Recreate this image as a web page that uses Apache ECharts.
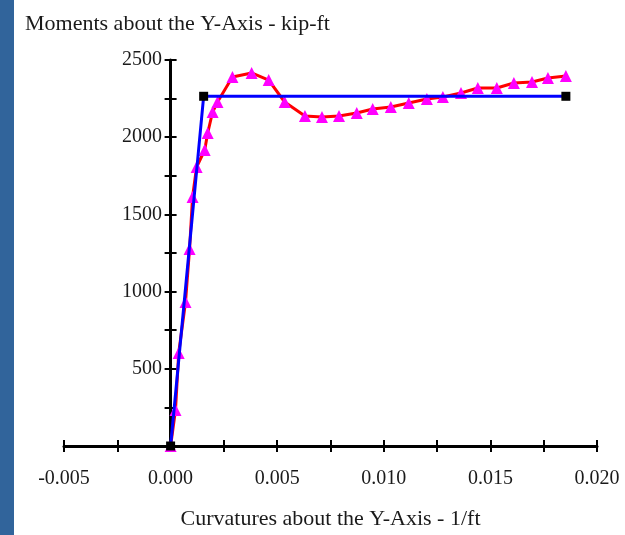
<!DOCTYPE html>
<html>
<head>
<meta charset="utf-8">
<script src="https://cdn.jsdelivr.net/npm/echarts@6/dist/echarts.min.js"></script>
<style>
  html, body { margin: 0; padding: 0; background: #fff; }
  #chart { width: 625px; height: 535px; }
</style>
</head>
<body>
<div id="chart"></div>
<script>
// moment-curvature data
const curvature = [0, 0.00023, 0.00038, 0.0007, 0.00089, 0.00103, 0.00122, 0.0016, 0.00174, 0.00197,
  0.0022, 0.0029, 0.0038, 0.0046, 0.00535, 0.0063, 0.0071, 0.0079, 0.00873, 0.00948,
  0.01033, 0.01117, 0.01202, 0.01277, 0.01362, 0.01441, 0.0153, 0.0161, 0.01695, 0.0177, 0.01854];
const moment = [0, 233, 602, 933, 1276, 1613, 1807, 1917, 2027, 2163,
  2228, 2390, 2416, 2370, 2228, 2137, 2131, 2137, 2157, 2183,
  2196, 2222, 2247, 2260, 2286, 2319, 2319, 2351, 2358, 2383, 2396];

// idealized bilinear fit
const idealCurvature = [0, 0.00155, 0.01854];
const idealMoment = [0, 2265, 2265];

const fontFamily = 'Liberation Serif';
const textColor = '#1a1a1a';

let chartDom = document.getElementById('chart');
let myChart = echarts.init(chartDom);

function xLabel(v) {
  const k = v / 0.005;
  return Math.abs(k - Math.round(k)) < 1e-6 ? v.toFixed(3) : '';
}
function yLabel(v) {
  return v > 0 && v % 500 === 0 ? String(v) : '';
}

const xBase = {
  type: 'value',
  min: -0.005,
  max: 0.02,
  interval: 0.0025,
  position: 'bottom',
  splitLine: { show: false }
};
const yBase = {
  type: 'value',
  min: 0,
  max: 2500,
  interval: 250,
  position: 'left',
  splitLine: { show: false }
};

let option = {
  animation: false,
  title: {
    text: 'Moments about the Y-Axis - kip-ft',
    left: 20,
    top: 8,
    textStyle: { fontFamily: fontFamily, fontWeight: 'normal', fontSize: 22, color: textColor }
  },
  graphic: [
    { type: 'rect', left: 0, top: 0, shape: { width: 14, height: 535 }, style: { fill: '#31649b' } }
  ],
  grid: { left: 64, right: 28, top: 60, bottom: 89 },
  xAxis: [
    Object.assign({}, xBase, {
      name: 'Curvatures about the Y-Axis - 1/ft',
      nameLocation: 'middle',
      nameGap: 62,
      nameTextStyle: { fontFamily: fontFamily, fontSize: 22, color: textColor },
      axisLine: { onZero: false, lineStyle: { color: '#000', width: 3 } },
      axisTick: { show: true, inside: false, length: 6, lineStyle: { color: '#000', width: 2 } },
      axisLabel: { formatter: xLabel, margin: 23, fontFamily: fontFamily, fontSize: 20, color: textColor, showMinLabel: true, showMaxLabel: true }
    }),
    Object.assign({}, xBase, {
      axisLine: { onZero: false, lineStyle: { color: 'rgba(0,0,0,0)', width: 3 } },
      axisTick: { show: true, inside: true, length: 6, lineStyle: { color: '#000', width: 2 } },
      axisLabel: { show: false }
    })
  ],
  yAxis: [
    Object.assign({}, yBase, {
      axisLine: { onZero: true, lineStyle: { color: '#000', width: 3 } },
      axisTick: { show: true, inside: false, length: 6, lineStyle: { color: '#000', width: 2 } },
      axisLabel: { formatter: yLabel, margin: -98, fontFamily: fontFamily, fontSize: 20, color: textColor }
    }),
    Object.assign({}, yBase, {
      axisLine: { onZero: true, lineStyle: { color: 'rgba(0,0,0,0)', width: 3 } },
      axisTick: { show: true, inside: true, length: 6, lineStyle: { color: '#000', width: 2 } },
      axisLabel: { show: false }
    })
  ],
  series: [
    {
      name: 'Analysis',
      type: 'line',
      data: curvature.map((c, i) => [c, moment[i]]),
      symbol: 'triangle',
      symbolSize: 12,
      showAllSymbol: true,
      itemStyle: { color: '#ff00ff' },
      lineStyle: { color: '#ff0000', width: 3 },
      z: 3
    },
    {
      name: 'Idealized',
      type: 'line',
      data: idealCurvature.map((c, i) => [c, idealMoment[i]]),
      symbol: 'rect',
      symbolSize: 9,
      itemStyle: { color: '#000' },
      lineStyle: { color: '#0000ff', width: 3 },
      z: 4
    }
  ]
};

option && myChart.setOption(option);
</script>
</body>
</html>
